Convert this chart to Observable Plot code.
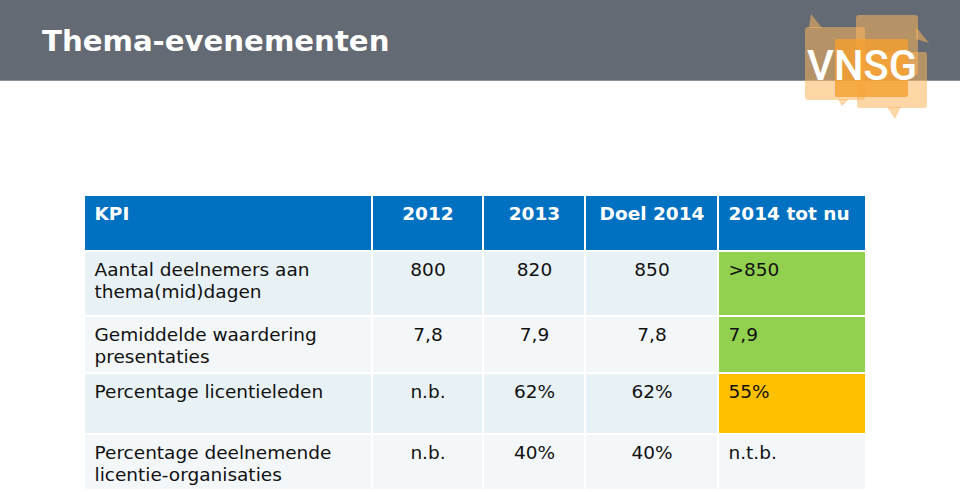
<!DOCTYPE html>
<html>
<head>
<meta charset="utf-8">
<script src="https://cdn.jsdelivr.net/npm/d3@7"></script>
<script src="https://cdn.jsdelivr.net/npm/@observablehq/plot@0.6"></script>
<style>
  body { margin: 0; background: #ffffff; }
  #page { position: relative; width: 960px; height: 492px; overflow: hidden; font-family: "DejaVu Sans", Verdana, sans-serif; }
  #band { position: absolute; left: 0; top: 0; width: 960px; height: 80px; background: #636a73; border-bottom: 1px solid #8c929a; }
  #title { position: absolute; left: 42px; top: 27px; margin: 0; font: bold 29.2px/29px "DejaVu Sans", Verdana, sans-serif; color: #ffffff; letter-spacing: 0; }
  #chart { position: absolute; left: 0; top: 0; }
  #chart svg { background: transparent; }
  #logo { position: absolute; left: 780px; top: 0; }
</style>
</head>
<body>
<div id="page">
  <div id="band"></div>
  <h1 id="title">Thema-evenementen</h1>
  <div id="chart"></div>
  <svg id="logo" width="180" height="130" viewBox="780 0 180 130">
    <g fill="#fbb45c" fill-opacity="0.55">
      <rect x="856" y="15" width="62" height="60" rx="3"></rect>
      <polygon points="916,27 929,43 916,39"></polygon>
      <rect x="805" y="27" width="60" height="73" rx="3"></rect>
      <polygon points="809,28 811,14 822,28"></polygon>
      <polygon points="838,99 842,106 849,99"></polygon>
      <rect x="857" y="52" width="70" height="56" rx="3"></rect>
      <polygon points="887,107 895,119 901,107"></polygon>
    </g>
    <rect x="835" y="39" width="73" height="58" rx="2" fill="#f5a030" fill-opacity="0.8"></rect>
    <text x="807" y="80" fill="#ffffff" font-family="Roboto, Liberation Sans, sans-serif" font-weight="500" font-size="42" textLength="110" lengthAdjust="spacingAndGlyphs">VNSG</text>
  </svg>
</div>
<script>
// ---- data ----
const columns = ["KPI", "2012", "2013", "Doel 2014", "2014 tot nu"];
const kpis = [
  "Aantal deelnemers aan\nthema(mid)dagen",
  "Gemiddelde waardering\npresentaties",
  "Percentage licentieleden",
  "Percentage deelnemende\nlicentie-organisaties"
];
const v2012 = ["800", "7,8", "n.b.", "n.b."];
const v2013 = ["820", "7,9", "62%", "40%"];
const doel2014 = ["850", "7,8", "62%", "40%"];
const tot2014 = [">850", "7,9", "55%", "n.t.b."];
const status2014 = ["groen", "groen", "oranje", "geen"];

// ---- layout & styles (not data) ----
const layout = {
  colEdges: [85, 373, 484, 586, 719, 867],
  rowEdges: [196, 252, 317, 374, 435, 491],
  gap: 2,
  padX: 9,
  padY: 7.5
};
const headerFill = "#0070c0";
const rowFills = ["#e8f1f5", "#f3f7f9"];
const statusFill = { groen: "#92d050", oranje: "#ffc000" };
const leftAligned = [0, 4];

const E = layout.colEdges, R = layout.rowEdges, g = layout.gap;
const rows = kpis.map((k, i) => [k, v2012[i], v2013[i], doel2014[i], tot2014[i]]);

const cells = [];
const texts = [];
function textX(j) {
  return leftAligned.includes(j) ? E[j] + layout.padX : (E[j] + E[j + 1] - g) / 2;
}
columns.forEach((c, j) => {
  cells.push({ x1: E[j], x2: E[j + 1] - g, y1: R[0], y2: R[1] - g, fill: headerFill });
  texts.push({ x: textX(j), y: R[0] + layout.padY, text: c, header: true, left: leftAligned.includes(j) });
});
rows.forEach((row, i) => {
  row.forEach((v, j) => {
    let fill = rowFills[i % 2];
    if (j === 4 && statusFill[status2014[i]]) fill = statusFill[status2014[i]];
    cells.push({ x1: E[j], x2: E[j + 1] - g, y1: R[i + 1], y2: R[i + 2] - g, fill });
    texts.push({ x: textX(j), y: R[i + 1] + layout.padY, text: v, header: false, left: leftAligned.includes(j) });
  });
});

const font = "DejaVu Sans";
const fs = 18.5;
const common = { x: "x", y: "y", text: "text", lineAnchor: "top", fontSize: fs, lineHeight: 22 / fs, fontFamily: font };

const chart = Plot.plot({
  width: 960,
  height: 492,
  margin: 0,
  x: { type: "linear", domain: [0, 960], range: [0, 960], axis: null },
  y: { type: "linear", domain: [0, 492], range: [0, 492], axis: null },
  color: { type: "identity" },
  style: { background: "transparent" },
  marks: [
    Plot.rect(cells, { x1: "x1", x2: "x2", y1: "y1", y2: "y2", fill: "fill" }),
    Plot.text(texts.filter(d => d.header && d.left), { ...common, textAnchor: "start", fill: "#ffffff", fontWeight: "bold" }),
    Plot.text(texts.filter(d => d.header && !d.left), { ...common, textAnchor: "middle", fill: "#ffffff", fontWeight: "bold" }),
    Plot.text(texts.filter(d => !d.header && d.left), { ...common, textAnchor: "start", fill: "#111111" }),
    Plot.text(texts.filter(d => !d.header && !d.left), { ...common, textAnchor: "middle", fill: "#111111" })
  ]
});
document.getElementById("chart").appendChild(chart);
</script>
</body>
</html>
